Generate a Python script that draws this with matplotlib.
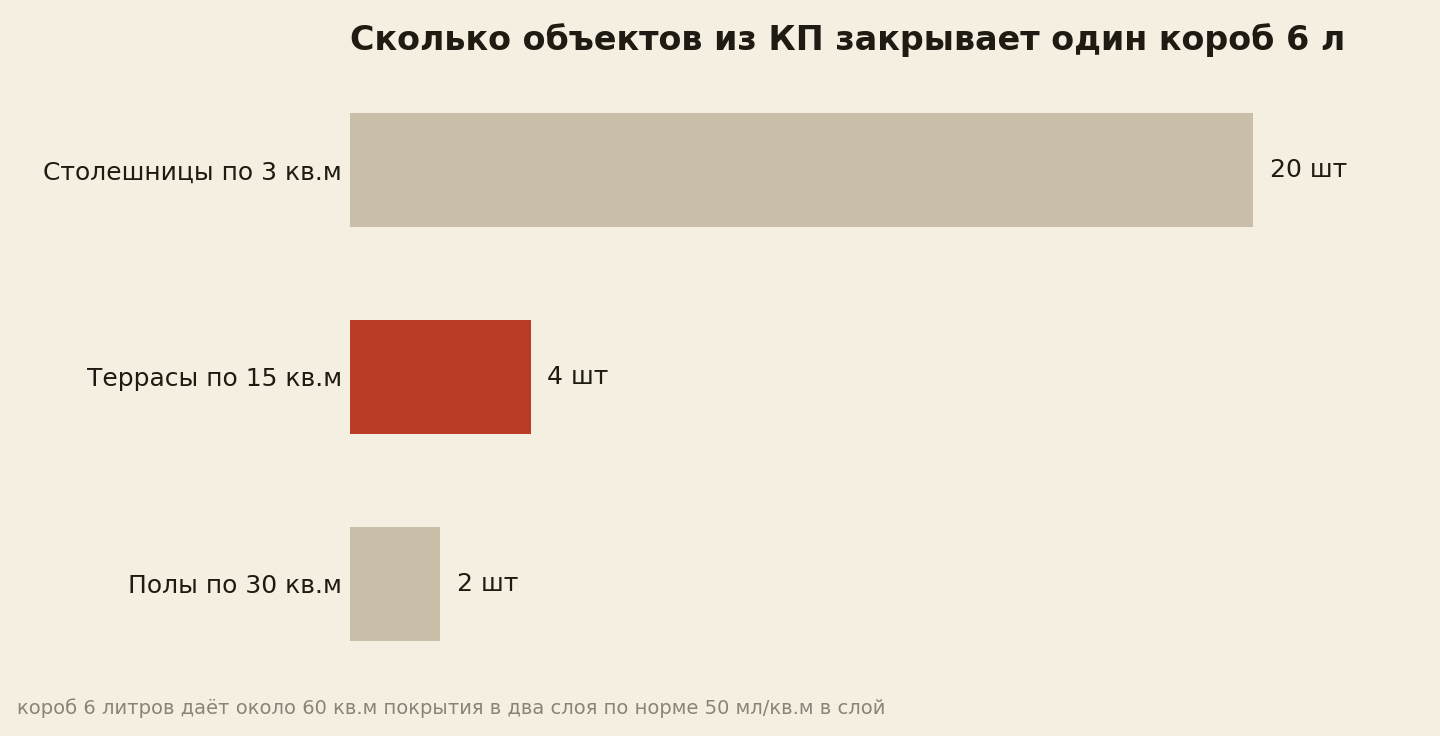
import matplotlib
matplotlib.use("Agg")
import matplotlib.pyplot as plt

categories = ["Столешницы по 3 кв.м", "Террасы по 15 кв.м", "Полы по 30 кв.м"]
values = [20, 4, 2]
value_labels = ["20 шт", "4 шт", "2 шт"]
colors = ["#c9bfa8", "#bb3c26", "#c9bfa8"]

bg = "#f5efe2"
fig = plt.figure(figsize=(14.4, 7.36), dpi=100, facecolor=bg)
ax = fig.add_axes([350/1440, 0.0659, 1000/1440, 0.8438], facecolor=bg)
y = list(range(len(values)))
ax.barh(y, values, height=0.551, color=colors)
ax.set_xlim(0, 1000/45.15)
ax.set_ylim(2.5, -0.5)
for yi, v, lab in zip(y, values, value_labels):
    ax.annotate(lab, (v, yi), xytext=(12, 0), textcoords="offset points",
                va="center", ha="left", fontsize=18, color="#1f1a12")
ax.set_yticks(y)
ax.set_yticklabels(categories, fontsize=18, color="#1f1a12")
ax.tick_params(axis="y", length=0, pad=6)
ax.set_xticks([])
for s in ax.spines.values():
    s.set_visible(False)
fig.text(350/1440, 1 - 40/736, "Сколько объектов из КП закрывает один короб 6 л",
         fontsize=24, fontweight="bold", color="#1f1a12", va="center", ha="left")
fig.text(17/1440, 1 - 708/736,
         "короб 6 литров даёт около 60 кв.м покрытия в два слоя по норме 50 мл/кв.м в слой",
         fontsize=14, color="#8a8478", va="center", ha="left")
fig.savefig("out.png", dpi=100, facecolor=bg)
